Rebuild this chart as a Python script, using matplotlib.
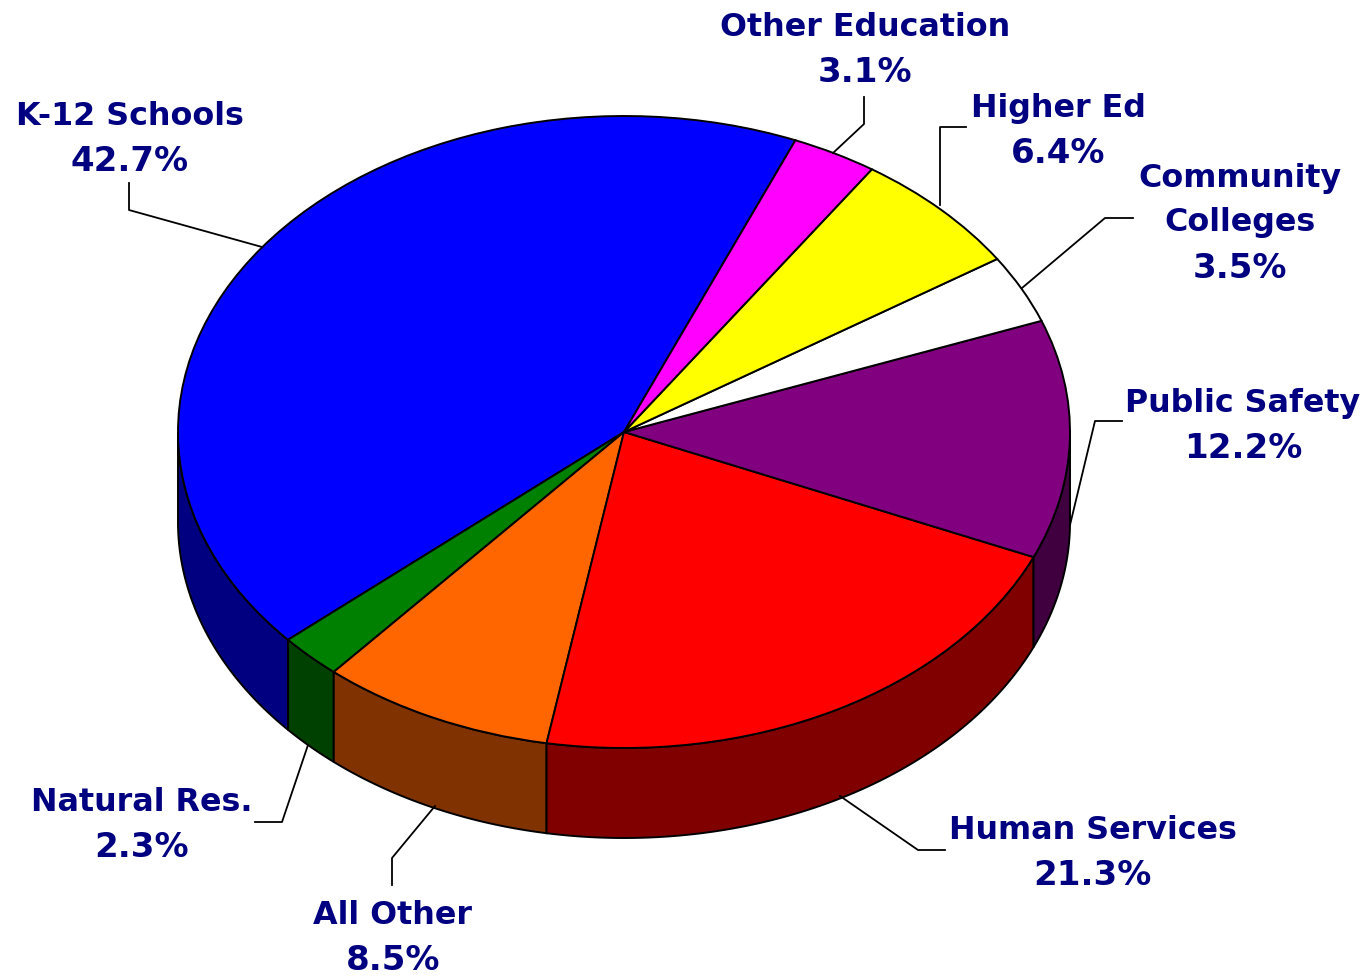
import numpy as np
import matplotlib
matplotlib.use("Agg")
import matplotlib.pyplot as plt

categories = ["K-12 Schools", "Natural Res.", "All Other", "Human Services", "Public Safety",
              "Community\nColleges", "Higher Ed", "Other Education"]
values = [42.7, 2.3, 8.5, 21.3, 12.2, 3.5, 6.4, 3.1]
top_colors = ["#0000FF", "#008000", "#FF6600", "#FF0000", "#800080", "#FFFFFF", "#FFFF00", "#FF00FF"]
wall_colors = ["#000080", "#004000", "#803300", "#800000", "#400040", "#808080", "#808000", "#800080"]

W, H = 1365, 976
CX, CY, RX, RY, DEPTH = 624, 432, 446, 316, 90
START = 67.4
TEXT = "#000080"
LINE_GAP = 45

label_pos = [(130, 139), (141.5, 825), (393, 938), (1092.5, 853), (1243, 426), (1239.5, 223), (1058, 131), (865.5, 49.5)]
leaders = [
    [(129, 183), (129, 210), (262, 247)],
    [(255, 822), (282, 822), (308, 745)],
    [(392, 885), (392, 858), (435, 806)],
    [(945, 850), (918, 850), (840, 796)],
    [(1122, 421), (1095, 421), (1070, 525)],
    [(1133, 218), (1105, 218), (1022, 288)],
    [(940, 205), (940, 127), (966, 127)],
    [(864, 97), (864, 124), (833, 153)],
]

fig = plt.figure(figsize=(W / 100, H / 100), dpi=100, facecolor="white")
ax = fig.add_axes([0, 0, 1, 1])

d = DEPTH / RY
fr = np.array(values) / sum(values) * 360
edges = START + np.concatenate([[0], np.cumsum(fr)])
for a0, a1, wc in zip(edges[:-1], edges[1:], wall_colors):
    t = np.radians(np.linspace(a0, a1, 200))
    mask = np.sin(t) <= 0
    if mask.sum() < 2:
        continue
    t = t[mask]
    xs = np.r_[np.cos(t), np.cos(t[::-1])]
    ys = np.r_[np.sin(t), np.sin(t[::-1]) - d]
    ax.fill(xs, ys, facecolor=wc, edgecolor="black", linewidth=1.4, zorder=1)

wedges, _ = ax.pie(values, colors=top_colors, startangle=START, counterclock=True, radius=1,
                   wedgeprops=dict(edgecolor="black", linewidth=1.4, zorder=2))
ax.set_aspect("auto")
ax.set_xlim(-CX / RX, (W - CX) / RX)
ax.set_ylim((CY - H) / RY, CY / RY)
ax.axis("off")

to_fig = lambda px, py: (px / W, 1 - py / H)
for cat, val, (lx, ly), pts in zip(categories, values, label_pos, leaders):
    xy = np.array([to_fig(*p) for p in pts])
    fig.add_artist(plt.Line2D(xy[:, 0], xy[:, 1], color="black", lw=1.3, zorder=3))
    lines = cat.split("\n") + [f"{val:.1f}%"]
    y0 = ly - LINE_GAP * (len(lines) - 1) / 2
    for i, line in enumerate(lines):
        is_value = i == len(lines) - 1
        fx, fy = to_fig(lx, y0 + i * LINE_GAP)
        fig.text(fx, fy, line, ha="center", va="center", color=TEXT,
                 fontsize=24.5 if is_value else 22.9, fontweight="bold",
                 family="DejaVu Sans", zorder=4)

fig.savefig("out.png", dpi=100)
